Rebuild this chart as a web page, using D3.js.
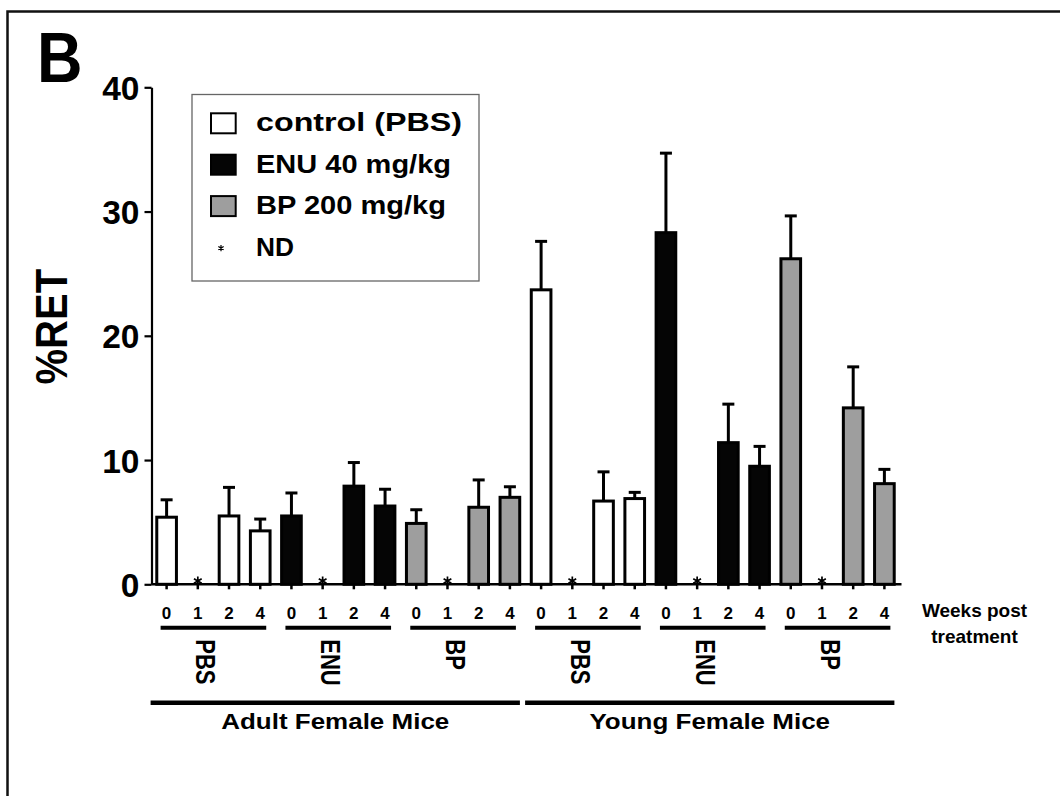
<!DOCTYPE html>
<html>
<head>
<meta charset="utf-8">
<script src="https://cdn.jsdelivr.net/npm/d3@7"></script>
<style>
  html, body { margin: 0; padding: 0; background: #fff; }
  svg { display: block; }
  text { font-family: "Liberation Sans", Arial, Helvetica, sans-serif; font-weight: bold; fill: #000; }
</style>
</head>
<body>
<svg id="chart" width="1060" height="796"></svg>
<script>
// ---------------- data ----------------
const ages = ["Adult Female Mice", "Young Female Mice"];
const treatments = ["PBS", "ENU", "BP"];
const weeks = ["0", "1", "2", "4"];
// mean %RET per age, treatment, week (null = not determined, ND)
const adultPBS = [5.4, null, 5.5, 4.3];
const adultENU = [5.5, null, 7.9, 6.3];
const adultBP  = [4.9, null, 6.2, 7.0];
const youngPBS = [23.7, null, 6.7, 6.9];
const youngENU = [28.3, null, 11.4, 9.5];
const youngBP  = [26.2, null, 14.2, 8.1];
// upper error (SEM) per bar
const adultPBSerr = [1.4, null, 2.3, 0.95];
const adultENUerr = [1.85, null, 1.9, 1.35];
const adultBPerr  = [1.1, null, 2.2, 0.85];
const youngPBSerr = [3.9, null, 2.35, 0.5];
const youngENUerr = [6.4, null, 3.1, 1.6];
const youngBPerr  = [3.45, null, 3.3, 1.15];
const yTicks = [0, 10, 20, 30, 40];
const legendLabels = ["control (PBS)", "ENU 40 mg/kg", "BP 200 mg/kg", "ND"];
const fills = { PBS: "#ffffff", ENU: "#050505", BP: "#9e9e9e" };
// layout: rendered widths of the legend labels (px)
const legendTextWidths = [206, 195, 190, 38];

const meansTable = [[adultPBS, adultENU, adultBP], [youngPBS, youngENU, youngBP]];
const errTable = [[adultPBSerr, adultENUerr, adultBPerr], [youngPBSerr, youngENUerr, youngBPerr]];

const rows = [];
ages.forEach((age, ai) => treatments.forEach((tr, ti) => weeks.forEach((wk, wi) => {
  rows.push({ key: ai + "-" + tr + "-" + wk, age: ai, tr, wk,
    v: meansTable[ai][ti][wi], e: errTable[ai][ti][wi] });
})));

// ---------------- layout ----------------
const svg = d3.select("#chart");
const x = d3.scaleBand().domain(rows.map(d => d.key)).range([151, 900])
  .paddingInner(0.37).paddingOuter(0.185);
const y = d3.scaleLinear().domain([0, 40]).range([584.3, 87.3]);
const bw = x.bandwidth();
const cx = k => x(k) + bw / 2;

// frame
svg.append("path").attr("d", "M7.5,796V11.5H1060").attr("fill", "none")
  .attr("stroke", "#111").attr("stroke-width", 2.5);

// panel letter
svg.append("text").text("B").attr("font-size", 70)
  .attr("transform", "translate(37,81.7) scale(0.9,1)");

// bars
const bars = rows.filter(d => d.v != null);
svg.append("g").selectAll("rect").data(bars).join("rect")
  .attr("x", d => x(d.key)).attr("width", bw)
  .attr("y", d => y(d.v)).attr("height", d => y(0) - y(d.v))
  .attr("fill", d => fills[d.tr]).attr("stroke", "#000").attr("stroke-width", 3);

// error bars (upper only)
const eg = svg.append("g").attr("stroke", "#000").attr("stroke-width", 3);
eg.selectAll("line.v").data(bars).join("line").attr("class", "v")
  .attr("x1", d => cx(d.key)).attr("x2", d => cx(d.key))
  .attr("y1", d => y(d.v)).attr("y2", d => y(d.v + d.e));
eg.selectAll("line.c").data(bars).join("line").attr("class", "c")
  .attr("x1", d => cx(d.key) - 6).attr("x2", d => cx(d.key) + 6)
  .attr("y1", d => y(d.v + d.e)).attr("y2", d => y(d.v + d.e));

// y axis
const yAxis = svg.append("g").attr("transform", "translate(151.5,0)")
  .call(d3.axisLeft(y).tickValues(yTicks).tickSize(7).tickSizeOuter(0).tickPadding(5));
yAxis.selectAll("path,line").attr("stroke", "#000").attr("stroke-width", 2.2);
yAxis.selectAll("text").attr("font-size", 33.5).attr("dy", "0.36em")
  .style("font-family", "'Liberation Sans', Arial, sans-serif").style("font-weight", "bold");

// x axis
const xAxis = svg.append("g").attr("transform", "translate(0,584.3)")
  .call(d3.axisBottom(x).tickSize(5).tickSizeOuter(0).tickPadding(17.5)
    .tickFormat(k => k.split("-")[2]));
xAxis.select(".domain").attr("d", "M151.5,0H901.5");
xAxis.selectAll("path,line").attr("stroke", "#000").attr("stroke-width", 2.5);
xAxis.selectAll("text").attr("font-size", 17)
  .style("font-family", "'Liberation Sans', Arial, sans-serif").style("font-weight", "bold");

// ND asterisks (drawn on top of the axis)
const star = d3.symbol(d3.symbolAsterisk, 56);
svg.append("g").selectAll("path").data(rows.filter(d => d.v == null)).join("path")
  .attr("d", star).attr("transform", d => `translate(${cx(d.key)},581)`)
  .attr("fill", "none").attr("stroke", "#000").attr("stroke-width", 1.7);

// y title
svg.append("text").text("%RET").attr("font-size", 40).attr("text-anchor", "middle")
  .attr("transform", "translate(66.5,326.7) rotate(-90) scale(1,1.1)");

// treatment group lines + labels
const groups = [];
ages.forEach((a, ai) => treatments.forEach(tr => groups.push({ ai, tr,
  k0: ai + "-" + tr + "-" + weeks[0], k1: ai + "-" + tr + "-" + weeks[weeks.length - 1] })));
svg.append("g").selectAll("line").data(groups).join("line")
  .attr("x1", d => cx(d.k0) - 6).attr("x2", d => cx(d.k1) + 6)
  .attr("y1", 627.7).attr("y2", 627.7).attr("stroke", "#000").attr("stroke-width", 4);
svg.append("g").selectAll("text").data(groups).join("text").text(d => d.tr)
  .attr("font-size", 22)
  .attr("transform", d => `translate(${(cx(d.k0) + cx(d.k1)) / 2 - 17},639.3) rotate(90) scale(1,1.27)`);

// age lines + labels
const ageGroups = ages.map((a, ai) => ({ a,
  k0: ai + "-" + treatments[0] + "-" + weeks[0],
  k1: ai + "-" + treatments[treatments.length - 1] + "-" + weeks[weeks.length - 1] }));
svg.append("g").selectAll("line").data(ageGroups).join("line")
  .attr("x1", d => cx(d.k0) - 16).attr("x2", d => cx(d.k1) + 10)
  .attr("y1", 702.7).attr("y2", 702.7).attr("stroke", "#000").attr("stroke-width", 4.5);
svg.append("g").selectAll("text").data(ageGroups).join("text").text(d => d.a)
  .attr("font-size", 22.4).attr("text-anchor", "middle")
  .attr("transform", d => `translate(${(cx(d.k0) - 16 + cx(d.k1) + 10) / 2},729) scale(1.16,1)`);

// weeks post treatment
const wpt = svg.append("g").attr("font-size", 19).attr("text-anchor", "middle");
wpt.append("text").attr("x", 974.5).attr("y", 617.3).text("Weeks post");
wpt.append("text").attr("x", 974.5).attr("y", 643.3).text("treatment");

// legend
const lg = svg.append("g");
lg.append("rect").attr("x", 192).attr("y", 94.5).attr("width", 287).attr("height", 186.5)
  .attr("fill", "#fff").attr("stroke", "#666").attr("stroke-width", 1.3);
const items = legendLabels.map((l, i) => ({ l, i, key: [...treatments, "ND"][i] }));
lg.selectAll("rect.sw").data(items.filter(d => d.key !== "ND")).join("rect").attr("class", "sw")
  .attr("x", 211).attr("y", d => 113.3 + d.i * 41.4).attr("width", 24.7).attr("height", 20)
  .attr("fill", d => fills[d.key]).attr("stroke", "#000").attr("stroke-width", 2);
lg.selectAll("path.nd").data(items.filter(d => d.key === "ND")).join("path").attr("class", "nd")
  .attr("d", d3.symbol(d3.symbolAsterisk, 26))
  .attr("transform", d => `translate(221,${131 + d.i * 41.7 - 8})`)
  .attr("fill", "none").attr("stroke", "#000").attr("stroke-width", 1.2);
lg.selectAll("text.lbl").data(items).join("text").attr("class", "lbl")
  .attr("x", 256).attr("y", d => 131 + d.i * 41.7)
  .attr("font-size", 26).attr("textLength", d => legendTextWidths[d.i])
  .attr("lengthAdjust", "spacingAndGlyphs").text(d => d.l);
</script>
</body>
</html>
